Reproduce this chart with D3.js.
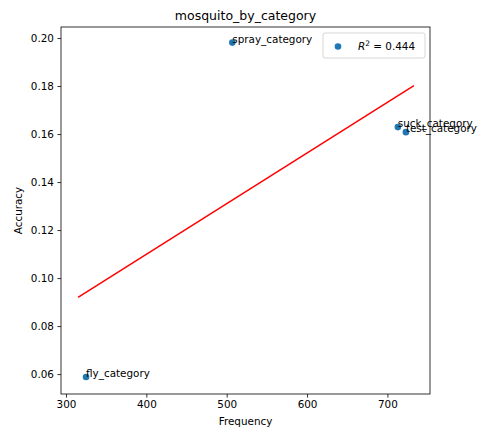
<!DOCTYPE html>
<html><head><meta charset="utf-8">
<script src="https://cdn.jsdelivr.net/npm/d3@7"></script>
<style>body{margin:0;background:#fff}svg{display:block;font-family:"DejaVu Sans",sans-serif}</style>
</head><body><div id="c"></div>
<script>
const categories = ["spray_category", "fly_category", "suck_category", "test_category"];
const frequency = [507, 325, 713, 723];
const accuracy = [0.1981, 0.0588, 0.1629, 0.1608];
const xTicks = [300, 400, 500, 600, 700];
const yTicks = [0.06, 0.08, 0.10, 0.12, 0.14, 0.16, 0.18, 0.20];
const titleText = "mosquito_by_category";

const W = 480, H = 431;
const m = {left: 61, right: 50, top: 27, bottom: 37};
const svg = d3.select("#c").append("svg").attr("width", W).attr("height", H);

const x = d3.scaleLinear().domain([293.8, 753]).range([m.left, W - m.right]);
const y = d3.scaleLinear().domain([0.0517, 0.2046]).range([H - m.bottom, m.top]);

// regression
const n = frequency.length;
const mx = d3.mean(frequency), my = d3.mean(accuracy);
let sxy = 0, sxx = 0, syy = 0;
for (let i = 0; i < n; i++) {
  sxy += (frequency[i]-mx)*(accuracy[i]-my);
  sxx += (frequency[i]-mx)**2;
  syy += (accuracy[i]-my)**2;
}
const slope = sxy/sxx, icpt = my - slope*mx;
const r2 = sxy*sxy/(sxx*syy);
const fx = [d3.min(frequency)-10, d3.max(frequency)+10];

const fs = 10.4;
// axes
const xa = svg.append("g").attr("transform", `translate(0,${H - m.bottom})`)
  .call(d3.axisBottom(x).tickValues(xTicks).tickSize(3.6).tickPadding(3.5).tickFormat(d3.format("d")));
const ya = svg.append("g").attr("transform", `translate(${m.left},0)`)
  .call(d3.axisLeft(y).tickValues(yTicks).tickSize(3.6).tickPadding(3.5).tickFormat(d3.format(".2f")));
[xa, ya].forEach(a => {
  a.select(".domain").remove();
  a.selectAll("line").attr("stroke", "#000").attr("stroke-width", 0.8);
  a.selectAll("text").attr("font-size", fs).attr("fill", "#000").attr("font-family", "DejaVu Sans");
});

// fit line
svg.append("path")
  .attr("d", d3.line()(fx.map(v => [x(v), y(slope*v + icpt)])))
  .attr("stroke", "red").attr("stroke-width", 1.5).attr("fill", "none");

// points
svg.append("g").selectAll("circle").data(frequency).join("circle")
  .attr("cx", d => x(d)).attr("cy", (d, i) => y(accuracy[i]))
  .attr("r", 3.3).attr("fill", "#1f77b4");

// labels
svg.append("g").selectAll("text").data(categories).join("text")
  .attr("x", (d, i) => x(frequency[i])).attr("y", (d, i) => y(accuracy[i]))
  .attr("font-size", fs).attr("fill", "#000").text(d => d);

// frame
svg.append("rect").attr("x", m.left).attr("y", m.top)
  .attr("width", W - m.left - m.right).attr("height", H - m.top - m.bottom)
  .attr("fill", "none").attr("stroke", "#000").attr("stroke-width", 0.8);

// legend
const lg = svg.append("g");
lg.append("rect").attr("x", 323).attr("y", 33).attr("width", 102).attr("height", 25)
  .attr("rx", 2).attr("fill", "#fff").attr("fill-opacity", 0.8).attr("stroke", "#ccc").attr("stroke-width", 0.8);
lg.append("circle").attr("cx", 338).attr("cy", 46.5).attr("r", 3.3).attr("fill", "#1f77b4");
const lt = lg.append("text").attr("x", 358).attr("y", 50).attr("font-size", fs).attr("fill", "#000");
lt.append("tspan").attr("font-style", "italic").text("R");
lt.append("tspan").attr("font-size", 7.5).attr("dy", -4).text("2");
lt.append("tspan").attr("dy", 4).text(" = " + r2.toFixed(3));

// titles
svg.append("text").attr("x", (m.left + W - m.right)/2).attr("y", 20).attr("text-anchor", "middle")
  .attr("font-size", 12.5).attr("fill", "#000").text(titleText);
svg.append("text").attr("x", (m.left + W - m.right)/2).attr("y", 425).attr("text-anchor", "middle")
  .attr("font-size", fs).attr("fill", "#000").text("Frequency");
svg.append("text").attr("transform", `translate(22,${(m.top + H - m.bottom)/2}) rotate(-90)`)
  .attr("text-anchor", "middle").attr("font-size", fs).attr("fill", "#000").text("Accuracy");
</script></body></html>
